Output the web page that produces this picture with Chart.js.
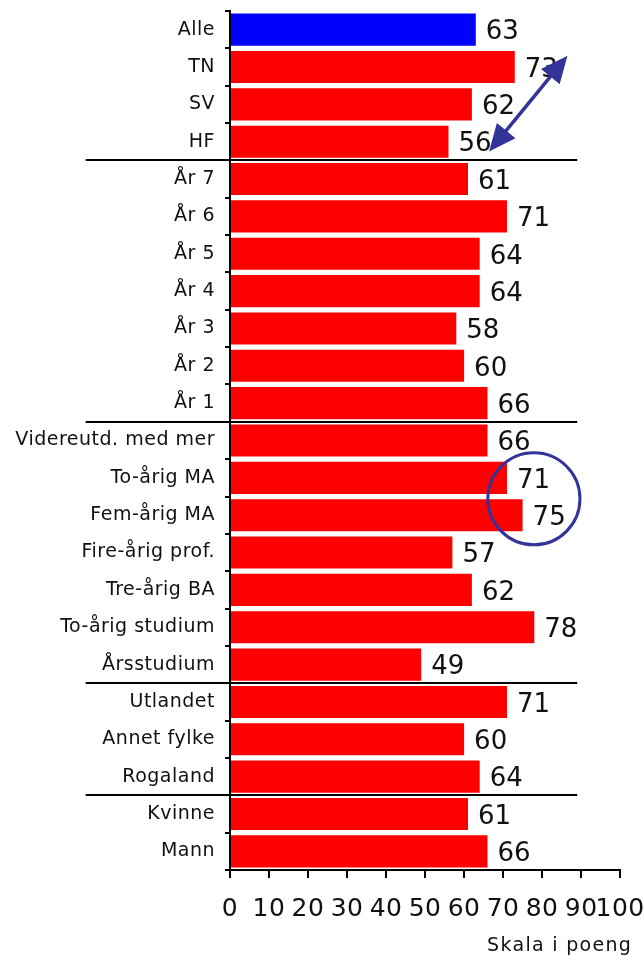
<!DOCTYPE html>
<html>
<head>
<meta charset="utf-8">
<script src="https://cdn.jsdelivr.net/npm/chart.js"></script>
<style>
  html, body { margin: 0; padding: 0; background: #fff; overflow: hidden; }
  #wrap { position: relative; width: 660px; height: 956px; }
</style>
</head>
<body>
<div id="wrap"><canvas id="chart"></canvas></div>
<script>
// ========== DATA ========== //
const categories = [
    'Alle', 'TN', 'SV', 'HF',
    'År 7', 'År 6', 'År 5', 'År 4', 'År 3', 'År 2', 'År 1',
    'Videreutd. med mer', 'To-årig MA', 'Fem-årig MA', 'Fire-årig prof.',
    'Tre-årig BA', 'To-årig studium', 'Årsstudium',
    'Utlandet', 'Annet fylke', 'Rogaland',
    'Kvinne', 'Mann'
];
const scores = [63, 73, 62, 56, 61, 71, 64, 64, 58, 60, 66, 66, 71, 75, 57, 62, 78, 49, 71, 60, 64, 61, 66];
const xTicks = [0, 10, 20, 30, 40, 50, 60, 70, 80, 90, 100];
// group separators sit after these category indexes
const groupBreaks = [3, 10, 17, 20];
const axisTitle = 'Skala i poeng';

const barColors = categories.map((c, i) => i === 0 ? '#0000ff' : '#ff0000');
const FONT = '"DejaVu Sans", Verdana, sans-serif';
const MARK = '#333399';

// ========== PLUGINS ========== //
// the original text is set slightly wide
const wideText = {
    id: 'wideText',
    beforeDraw(chart) { chart.ctx.letterSpacing = '0.5px'; },
    afterDraw(chart) { chart.ctx.letterSpacing = '0px'; }
};

const valueLabels = {
    id: 'valueLabels',
    afterDatasetsDraw(chart) {
        const ctx = chart.ctx;
        const meta = chart.getDatasetMeta(0);
        ctx.save();
        ctx.letterSpacing = '0px';
        ctx.font = '26px ' + FONT;
        ctx.fillStyle = '#111';
        ctx.textAlign = 'left';
        ctx.textBaseline = 'middle';
        meta.data.forEach((bar, i) => {
            ctx.fillText(String(scores[i]), bar.x + 10, bar.y + 3);
        });
        ctx.restore();
    }
};

function arrowHead(ctx, x1, y1, x2, y2) {
    // triangle with tip at (x2, y2)
    const a = Math.atan2(y2 - y1, x2 - x1);
    const len = 27, half = 12;
    const bx = x2 - len * Math.cos(a), by = y2 - len * Math.sin(a);
    ctx.beginPath();
    ctx.moveTo(x2, y2);
    ctx.lineTo(bx + half * Math.sin(a), by - half * Math.cos(a));
    ctx.lineTo(bx - half * Math.sin(a), by + half * Math.cos(a));
    ctx.closePath();
    ctx.fill();
}

const annotations = {
    id: 'annotations',
    afterDraw(chart) {
        const ctx = chart.ctx;
        const xs = chart.scales.x, ys = chart.scales.y;
        const band = (ys.getPixelForValue(1) - ys.getPixelForValue(0));
        const yAt = idx => ys.getPixelForValue(0) + idx * band;
        ctx.save();

        // group separator lines
        ctx.strokeStyle = '#000';
        ctx.lineWidth = 2;
        groupBreaks.forEach(b => {
            const y = Math.round(yAt(b + 0.5));
            ctx.beginPath();
            ctx.moveTo(xs.getPixelForValue(-37), y);
            ctx.lineTo(xs.getPixelForValue(89), y);
            ctx.stroke();
        });

        // double arrow between TN and HF
        const ax1 = xs.getPixelForValue(66.4), ay1 = yAt(3.26);
        const ax2 = xs.getPixelForValue(86.5), ay2 = yAt(0.7);
        ctx.strokeStyle = MARK;
        ctx.fillStyle = MARK;
        ctx.lineWidth = 3.5;
        const a = Math.atan2(ay2 - ay1, ax2 - ax1);
        ctx.beginPath();
        ctx.moveTo(ax1 + 15 * Math.cos(a), ay1 + 15 * Math.sin(a));
        ctx.lineTo(ax2 - 15 * Math.cos(a), ay2 - 15 * Math.sin(a));
        ctx.stroke();
        arrowHead(ctx, ax1, ay1, ax2, ay2);
        arrowHead(ctx, ax2, ay2, ax1, ay1);

        // circle around To-årig MA / Fem-årig MA
        const cx = xs.getPixelForValue(77.9);
        const cy = yAt(12.56);
        const r = xs.getPixelForValue(11.8) - xs.getPixelForValue(0);
        ctx.lineWidth = 3;
        ctx.beginPath();
        ctx.arc(cx, cy, r, 0, Math.PI * 2);
        ctx.stroke();

        // axis title, under the right end of the x axis
        ctx.letterSpacing = '1.3px';
        ctx.font = '19px ' + FONT;
        ctx.fillStyle = '#111';
        ctx.textAlign = 'right';
        ctx.textBaseline = 'middle';
        ctx.fillText(axisTitle, xs.right + 12, xs.bottom - 10);
        ctx.restore();
    }
};

// ========== CHART ========== //
const ctx = document.getElementById('chart').getContext('2d');
new Chart(ctx, {
    type: 'bar',
    data: {
        labels: categories,
        datasets: [{
            data: scores,
            backgroundColor: barColors,
            borderWidth: 0,
            categoryPercentage: 0.86,
            barPercentage: 1
        }]
    },
    options: {
        indexAxis: 'y',
        responsive: true,
        maintainAspectRatio: false,
        animation: false,
        layout: { padding: { top: 11, right: 37, bottom: 0, left: 0 } },
        plugins: {
            legend: { display: false },
            tooltip: { enabled: false }
        },
        scales: {
            x: {
                min: 0,
                max: 100,
                afterBuildTicks: s => { s.ticks = xTicks.map(v => ({ value: v })); },
                afterFit: s => { s.height = 86; },
                grid: { drawOnChartArea: false, drawTicks: true, tickLength: 8, color: '#000', lineWidth: 2 },
                border: { color: '#000', width: 2 },
                ticks: {
                    font: { family: FONT, size: 25 },
                    color: '#111',
                    padding: 16,
                    maxRotation: 0,
                    autoSkip: false
                }
            },
            y: {
                afterFit: s => { s.width = 230; s.paddingTop = 0; s.paddingBottom = 0; },
                grid: { drawOnChartArea: false, drawTicks: true, tickLength: 5, color: '#000', lineWidth: 2, offset: true },
                border: { color: '#000', width: 2 },
                ticks: {
                    font: { family: FONT, size: 19 },
                    color: '#111',
                    padding: 10,
                    autoSkip: false
                }
            }
        }
    },
    plugins: [wideText, valueLabels, annotations]
});
</script>
</body>
</html>
